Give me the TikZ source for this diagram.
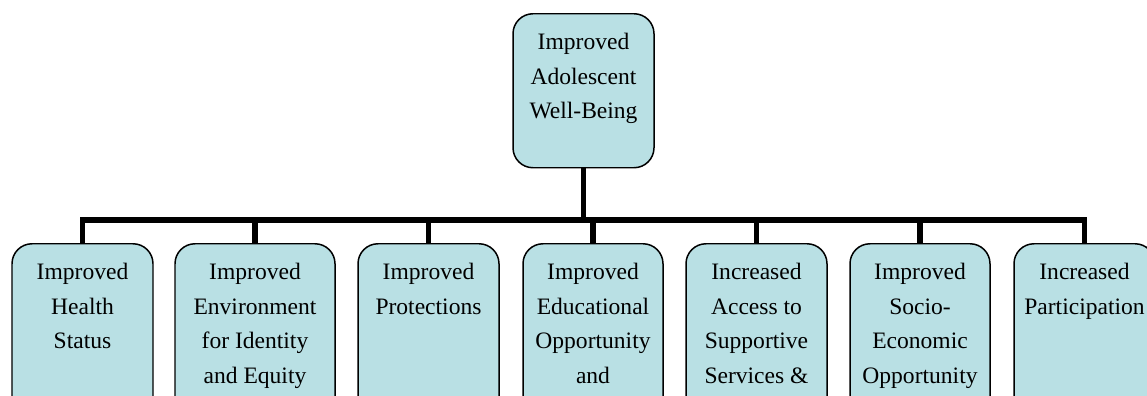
\documentclass[tikz,border=0pt]{standalone}
\usepackage{fontspec}
\setmainfont{Liberation Serif}
\usepackage{xcolor}
\usepackage{tikz}
\usetikzlibrary{calc}
\definecolor{goalfill}{RGB}{185,224,228}
\newcommand{\goaltext}[3]{\parbox[t][#2][t]{#1}{\centering\rule{0pt}{0.72cm}#3}}
\tikzset{
  goal/.style={draw=black, line width=0.85pt, rounded corners=0.4cm, fill=goalfill,
    inner sep=0pt, anchor=north, font=\fontsize{13.4pt}{19.6pt}\selectfont},
  link/.style={line width=3.4pt, line join=miter}
}

\begin{document}
\begin{tikzpicture}
        %FRAME
        \clip (0,0) rectangle (22.94,7.9);
        %KOORDINAT
        \coordinate (bar) at (0,3.5);
        %TOP BOX
        \node[goal] (top) at (11.67,7.64) {\goaltext{2.82cm}{3.08cm}{Improved\\Adolescent\\Well-Being}};
        %BOXES
        \node[goal] (g1) at (1.65,3.04) {\goaltext{2.82cm}{3.6cm}{Improved\\Health\\Status}};
        \node[goal] (g2) at (5.10,3.04) {\goaltext{3.2cm}{3.6cm}{Improved\\Environment\\for Identity\\and Equity}};
        \node[goal] (g3) at (8.57,3.04) {\goaltext{2.82cm}{3.6cm}{Improved\\Protections}};
        \node[goal] (g4) at (11.86,3.04) {\goaltext{2.8cm}{3.6cm}{Improved\\Educational\\Opportunity\\and}};
        \node[goal] (g5) at (15.13,3.04) {\goaltext{2.82cm}{3.6cm}{Increased\\Access to\\Supportive\\Services \&}};
        \node[goal] (g6) at (18.40,3.04) {\goaltext{2.8cm}{3.6cm}{Improved\\Socio-\\Economic\\Opportunity}};
        \node[goal] (g7) at (21.69,3.04) {\goaltext{2.82cm}{3.6cm}{Increased\\Participation}};
        %GARIS
        \draw[link] (top.south) -- (top.south |- bar);
        \draw[link] (g1.north) -- (g1.north |- bar) -- (g7.north |- bar) -- (g7.north);
        \foreach \i in {2,...,6}
            \draw[link] (g\i.north) -- (g\i.north |- bar);
\end{tikzpicture}
\end{document}
